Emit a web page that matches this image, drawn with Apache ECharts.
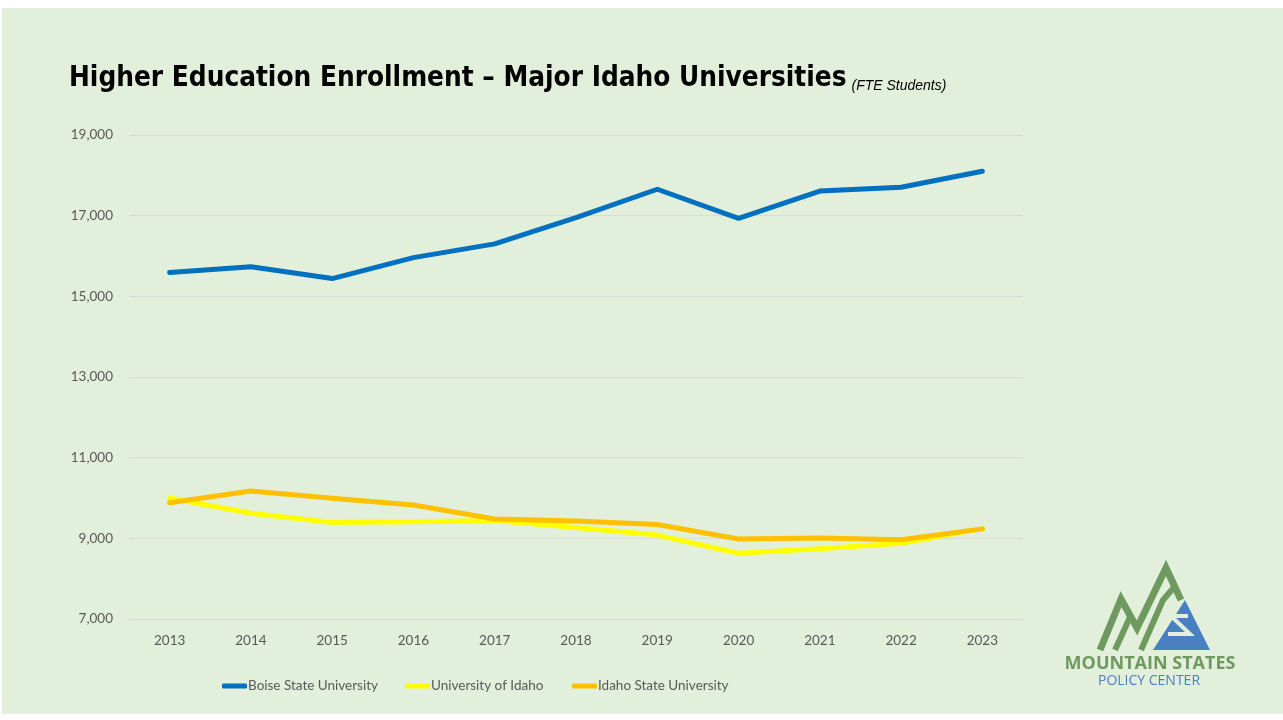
<!DOCTYPE html>
<html>
<head>
<meta charset="utf-8">
<script src="https://cdn.jsdelivr.net/npm/echarts@6/dist/echarts.min.js"></script>
<style>
html,body{margin:0;padding:0;background:#ffffff;}
#chart{width:1283px;height:720px;}
</style>
</head>
<body>
<div id="chart"></div>
<script>
const years = ['2013','2014','2015','2016','2017','2018','2019','2020','2021','2022','2023'];
const boiseState = [15590, 15735, 15440, 15960, 16300, 16950, 17655, 16935, 17610, 17705, 18100];
const univIdaho = [10000, 9620, 9390, 9410, 9440, 9270, 9080, 8630, 8740, 8880, 9240];
const idahoState = [9880, 10175, 9995, 9825, 9480, 9430, 9345, 8985, 9010, 8965, 9235];
const seriesNames = ['Boise State University', 'University of Idaho', 'Idaho State University'];
const yMin = 7000, yMax = 19000, yStep = 2000;

const chart = echarts.init(document.getElementById('chart'), null, {renderer: 'canvas'});
const green = '#6f9a5f', blue = '#4a7fc1', bg = '#e2efda';
const lineSeries = (name, data, color) => ({
  name, type: 'line', data, symbol: 'none', smooth: false,
  lineStyle: {color, width: 5, cap: 'round', join: 'round'},
  itemStyle: {color}
});
const legendAt = (name, left) => ({
  bottom: 22, left,
  itemWidth: 25, itemHeight: 5,
  icon: 'roundRect',
  textStyle: {fontFamily: 'Lato, sans-serif', fontSize: 13.5, color: '#595959', padding: [0, 0, 0, -4]},
  data: [name]
});
chart.setOption({
  animation: false,
  backgroundColor: '#ffffff',
  title: {
    left: 64, top: 58,
    text: '{a|Higher Education Enrollment – Major Idaho Universities} {b|(FTE Students)}',
    textStyle: {
      rich: {
        a: {fontFamily: '"DejaVu Sans Condensed", "DejaVu Sans", sans-serif', fontWeight: 'bold', fontSize: 27.7, color: '#000000', verticalAlign: 'bottom', lineHeight: 30},
        b: {fontFamily: '"Liberation Sans", sans-serif', fontStyle: 'italic', fontWeight: 'normal', fontSize: 14, color: '#000000', verticalAlign: 'bottom', lineHeight: 20}
      }
    }
  },
  graphic: [
    {type: 'rect', z: -10, silent: true, shape: {x: 2, y: 8, width: 1281, height: 706}, style: {fill: bg}},
    {type: 'polyline', z: 10, shape: {points: [[1100,650],[1121,599],[1137,628],[1166,568],[1181,600]]}, style: {stroke: green, lineWidth: 7, fill: null}},
    {type: 'polyline', z: 10, shape: {points: [[1115,650],[1130,617]]}, style: {stroke: green, lineWidth: 6, fill: null}},
    {type: 'polyline', z: 10, shape: {points: [[1141,650],[1163,600],[1176,585]]}, style: {stroke: green, lineWidth: 6, fill: null}},
    {type: 'polygon', z: 10, shape: {points: [[1153,650],[1185,600],[1210,650]]}, style: {fill: blue}},
    {type: 'polyline', z: 11, shape: {points: [[1188,616],[1171,616],[1190,634],[1168,634]]}, style: {stroke: bg, lineWidth: 4, fill: null}},
    {type: 'text', z: 10, style: {x: 1150, y: 664, text: 'MOUNTAIN STATES', fill: green, font: 'bold 18px "Open Sans", sans-serif', align: 'center', verticalAlign: 'middle'}},
    {type: 'text', z: 10, style: {x: 1149, y: 681, text: 'POLICY CENTER', fill: blue, font: '14px "Open Sans", sans-serif', align: 'center', verticalAlign: 'middle'}}
  ],
  legend: [
    legendAt(seriesNames[0], 217),
    legendAt(seriesNames[1], 400),
    legendAt(seriesNames[2], 567)
  ],
  grid: {left: 129, right: 260, top: 135, bottom: 101},
  xAxis: {
    type: 'category', data: years, boundaryGap: true,
    axisLine: {show: false}, axisTick: {show: false},
    axisLabel: {color: '#595959', fontFamily: 'Lato, sans-serif', fontSize: 13.5, margin: 15}
  },
  yAxis: {
    type: 'value', min: yMin, max: yMax, interval: yStep / 2,
    axisLine: {show: false}, axisTick: {show: false},
    axisLabel: {
      color: '#595959', fontFamily: 'Lato, sans-serif', fontSize: 13.5, margin: 16,
      formatter: v => ((v - yMin) % yStep === 0 ? v.toLocaleString('en-US') : '')
    },
    splitLine: {show: true, lineStyle: {color: ['#d9dcd6', 'rgba(0,0,0,0)'], width: 1}}
  },
  series: [
    lineSeries(seriesNames[0], boiseState, '#0070c0'),
    lineSeries(seriesNames[1], univIdaho, '#ffff00'),
    lineSeries(seriesNames[2], idahoState, '#ffc000')
  ]
});
</script>
</body>
</html>
